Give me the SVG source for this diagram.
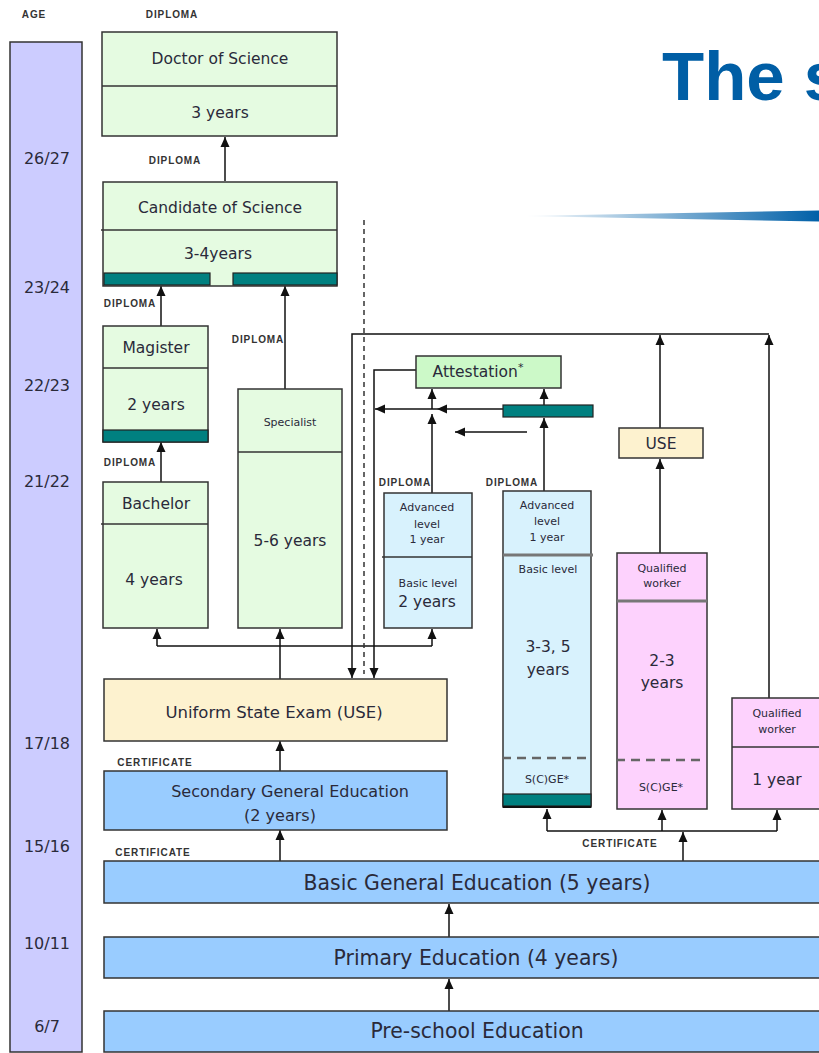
<svg xmlns="http://www.w3.org/2000/svg" width="819" height="1053" viewBox="0 0 819 1053">
<defs>
<marker id="ah" viewBox="0 0 10 10" refX="10" refY="5" markerWidth="10" markerHeight="10" markerUnits="userSpaceOnUse" orient="auto">
<path d="M0,0.5 L10,5 L0,9.5 z" fill="#111"/>
</marker>
<linearGradient id="grad" x1="0" y1="0" x2="1" y2="0">
<stop offset="0" stop-color="#ffffff"/>
<stop offset="1" stop-color="#0060a8"/>
</linearGradient>
<style>
.box{stroke:#333;stroke-width:1.5}
.g{fill:#e5fbe1}
.att{fill:#ccf9c8}
.lb{fill:#d8f2fd}
.y{fill:#fdf2cf}
.b{fill:#99ccff}
.p{fill:#fdd2fd}
.teal{fill:#008080;stroke:#222;stroke-width:1.2}
.div{stroke:#333;stroke-width:1.5}
.gdiv{stroke:#777;stroke-width:3}
.dash{stroke:#666;stroke-width:2.5;stroke-dasharray:9,6}
.t{font-family:"DejaVu Sans",Verdana,sans-serif;fill:#2a2a3a;text-anchor:middle;dominant-baseline:central}
.m{font-size:15.5px}
.s{font-size:11px}
.big{font-size:20.4px}
.age{font-family:"DejaVu Sans",Verdana,sans-serif;font-size:16px;fill:#2a2a3a;text-anchor:middle;dominant-baseline:central}
.lab{font-family:"Liberation Sans",Arial,sans-serif;font-weight:bold;font-size:10px;letter-spacing:0.9px;fill:#333;text-anchor:middle;dominant-baseline:central}
.c{stroke:#111;stroke-width:1.5;fill:none}
.a{marker-end:url(#ah)}
</style>
</defs>
<rect width="819" height="1053" fill="#ffffff"/>

<g id="title">
<text x="662" y="100" font-family="'Liberation Sans',Arial,sans-serif" font-weight="bold" font-size="69" fill="#005ea5">The s</text>
<polygon points="522,216 819,210.5 819,221.5" fill="url(#grad)"/>
</g>

<g id="age-bar">
<text class="lab" x="34" y="14">AGE</text>
<rect x="10" y="42" width="72" height="1010" fill="#ccccff" stroke="#333" stroke-width="1.5"/>
<text class="age" x="47" y="158">26/27</text>
<text class="age" x="47" y="287">23/24</text>
<text class="age" x="47" y="385">22/23</text>
<text class="age" x="47" y="481">21/22</text>
<text class="age" x="47" y="743">17/18</text>
<text class="age" x="47" y="846">15/16</text>
<text class="age" x="47" y="943">10/11</text>
<text class="age" x="47" y="1026">6/7</text>
</g>

<g id="labels">
<text class="lab" x="172" y="14">DIPLOMA</text>
<text class="lab" x="175" y="160">DIPLOMA</text>
<text class="lab" x="130" y="303">DIPLOMA</text>
<text class="lab" x="258" y="339">DIPLOMA</text>
<text class="lab" x="130" y="462">DIPLOMA</text>
<text class="lab" x="405" y="482">DIPLOMA</text>
<text class="lab" x="512" y="482">DIPLOMA</text>
<text class="lab" x="155" y="762">CERTIFICATE</text>
<text class="lab" x="153" y="852">CERTIFICATE</text>
<text class="lab" x="620" y="843">CERTIFICATE</text>
</g>

<g id="connectors">
<line class="c a" x1="225" y1="181" x2="225" y2="137"/>
<line class="c a" x1="161" y1="326" x2="161" y2="286"/>
<line class="c a" x1="285" y1="389" x2="285" y2="286"/>
<line class="c a" x1="161" y1="482" x2="161" y2="442"/>
<line class="c a" x1="280" y1="679" x2="280" y2="629"/>
<polyline class="c" points="157,646 432,646"/>
<line class="c a" x1="157" y1="646" x2="157" y2="629"/>
<line class="c a" x1="432" y1="646" x2="432" y2="629"/>
<line class="c a" x1="280" y1="771" x2="280" y2="741"/>
<line class="c a" x1="280" y1="861" x2="280" y2="830"/>
<line class="c a" x1="449" y1="937" x2="449" y2="904"/>
<line class="c a" x1="449" y1="1011" x2="449" y2="979"/>
<line class="c a" x1="683" y1="861" x2="683" y2="832"/>
<polyline class="c" points="547,831 777,831"/>
<line class="c a" x1="547" y1="831" x2="547" y2="809"/>
<line class="c a" x1="662" y1="831" x2="662" y2="810"/>
<line class="c a" x1="777" y1="831" x2="777" y2="810"/>
<line class="c a" x1="660" y1="553" x2="660" y2="459"/>
<line class="c a" x1="660" y1="428" x2="660" y2="335"/>
<line class="c a" x1="769" y1="698" x2="769" y2="335"/>
<polyline class="c a" points="769,334 352,334 352,678"/>
<polyline class="c a" points="416,370 374,370 374,678"/>
<line x1="364" y1="220" x2="364" y2="674" stroke="#333" stroke-width="1.5" stroke-dasharray="5,4"/>
<line class="c a" x1="503" y1="409" x2="437" y2="409"/>
<line class="c a" x1="437" y1="409" x2="375" y2="409"/>
<line class="c a" x1="432" y1="493" x2="432" y2="414"/>
<line class="c a" x1="432" y1="409" x2="432" y2="389"/>
<line class="c a" x1="544" y1="491" x2="544" y2="418"/>
<line class="c a" x1="544" y1="405" x2="544" y2="389"/>
<line class="c a" x1="527" y1="432" x2="455" y2="432"/>
</g>

<g id="doctor">
<rect class="box g" x="102" y="32" width="235" height="104"/>
<line class="div" x1="102" y1="86" x2="337" y2="86"/>
<text class="t m" x="220" y="59">Doctor of Science</text>
<text class="t m" x="220" y="113">3 years</text>
</g>

<g id="candidate">
<rect class="box g" x="103" y="182" width="234" height="104"/>
<line class="div" x1="101" y1="230" x2="337" y2="230"/>
<text class="t m" x="220" y="208">Candidate of Science</text>
<text class="t m" x="218" y="254">3-4years</text>
<rect class="teal" x="104" y="273" width="106" height="12"/>
<rect class="teal" x="233" y="273" width="104" height="12"/>
</g>

<g id="magister">
<rect class="box g" x="103" y="326" width="105" height="116"/>
<line class="div" x1="103" y1="368" x2="208" y2="368"/>
<text class="t m" x="156" y="348">Magister</text>
<text class="t m" x="156" y="405">2 years</text>
<rect class="teal" x="103" y="430" width="105" height="12"/>
</g>

<g id="bachelor">
<rect class="box g" x="103" y="482" width="105" height="146"/>
<line class="div" x1="101" y1="524" x2="208" y2="524"/>
<text class="t m" x="156" y="504">Bachelor</text>
<text class="t m" x="154" y="580">4 years</text>
</g>

<g id="specialist">
<rect class="box g" x="238" y="389" width="104" height="239"/>
<line class="div" x1="238" y1="452" x2="342" y2="452"/>
<text class="t s" x="290" y="422">Specialist</text>
<text class="t m" x="290" y="541">5-6 years</text>
</g>

<g id="attestation">
<rect class="box att" x="416" y="356" width="145" height="32"/>
<text class="t m" x="478" y="372">Attestation<tspan font-size="11" dy="-5">*</tspan></text>
</g>

<g id="teal-bar">
<rect class="teal" x="503" y="405" width="90" height="12"/>
</g>

<g id="use-small">
<rect class="box y" x="619" y="428" width="84" height="30"/>
<text class="t m" x="661" y="444">USE</text>
</g>

<g id="advanced-1">
<rect class="box lb" x="384" y="493" width="88" height="135"/>
<line class="div" x1="382" y1="557" x2="472" y2="557"/>
<text class="t s" x="427" y="507">Advanced</text>
<text class="t s" x="427" y="524">level</text>
<text class="t s" x="427" y="539">1 year</text>
<text class="t s" x="428" y="583">Basic level</text>
<text class="t m" x="427" y="602">2 years</text>
</g>

<g id="advanced-2">
<rect class="box lb" x="503" y="491" width="88" height="316"/>
<line class="gdiv" x1="503" y1="555" x2="593" y2="555"/>
<text class="t s" x="547" y="505">Advanced</text>
<text class="t s" x="547" y="521">level</text>
<text class="t s" x="547" y="537">1 year</text>
<text class="t s" x="548" y="569">Basic level</text>
<text class="t m" x="548" y="647">3-3, 5</text>
<text class="t m" x="548" y="670">years</text>
<line class="dash" x1="502" y1="758" x2="591" y2="758"/>
<text class="t s" x="547" y="779">S(C)GE*</text>
<rect class="teal" x="503" y="794" width="88" height="12"/>
<line x1="503" y1="807" x2="591" y2="807" stroke="#111" stroke-width="2"/>
</g>

<g id="qualified-1">
<rect class="box p" x="617" y="553" width="90" height="256"/>
<line class="gdiv" x1="617" y1="601" x2="707" y2="601"/>
<text class="t s" x="662" y="568">Qualified</text>
<text class="t s" x="662" y="583">worker</text>
<text class="t m" x="662" y="661">2-3</text>
<text class="t m" x="662" y="683">years</text>
<line class="dash" x1="616" y1="760" x2="705" y2="760"/>
<text class="t s" x="661" y="787">S(C)GE*</text>
</g>

<g id="qualified-2">
<rect class="box p" x="732" y="698" width="100" height="111"/>
<line class="div" x1="732" y1="747" x2="832" y2="747"/>
<text class="t s" x="777" y="713">Qualified</text>
<text class="t s" x="777" y="729">worker</text>
<text class="t m" x="777" y="780">1 year</text>
</g>

<g id="use-big">
<rect class="box y" x="104" y="679" width="343" height="62"/>
<text class="t" font-size="16.5" x="274" y="712">Uniform State Exam (USE)</text>
</g>

<g id="secondary">
<rect class="box b" x="104" y="771" width="343" height="59"/>
<text class="t" font-size="16" x="290" y="791">Secondary General Education</text>
<text class="t" font-size="16" x="280" y="815">(2 years)</text>
</g>

<g id="basic-general">
<rect class="box b" x="104" y="861" width="730" height="42"/>
<text class="t big" x="477" y="883">Basic General Education (5 years)</text>
</g>

<g id="primary">
<rect class="box b" x="104" y="937" width="730" height="41"/>
<text class="t big" x="476" y="958">Primary Education (4 years)</text>
</g>

<g id="preschool">
<rect class="box b" x="104" y="1011" width="730" height="41"/>
<text class="t big" x="477" y="1031">Pre-school Education</text>
</g>
</svg>
